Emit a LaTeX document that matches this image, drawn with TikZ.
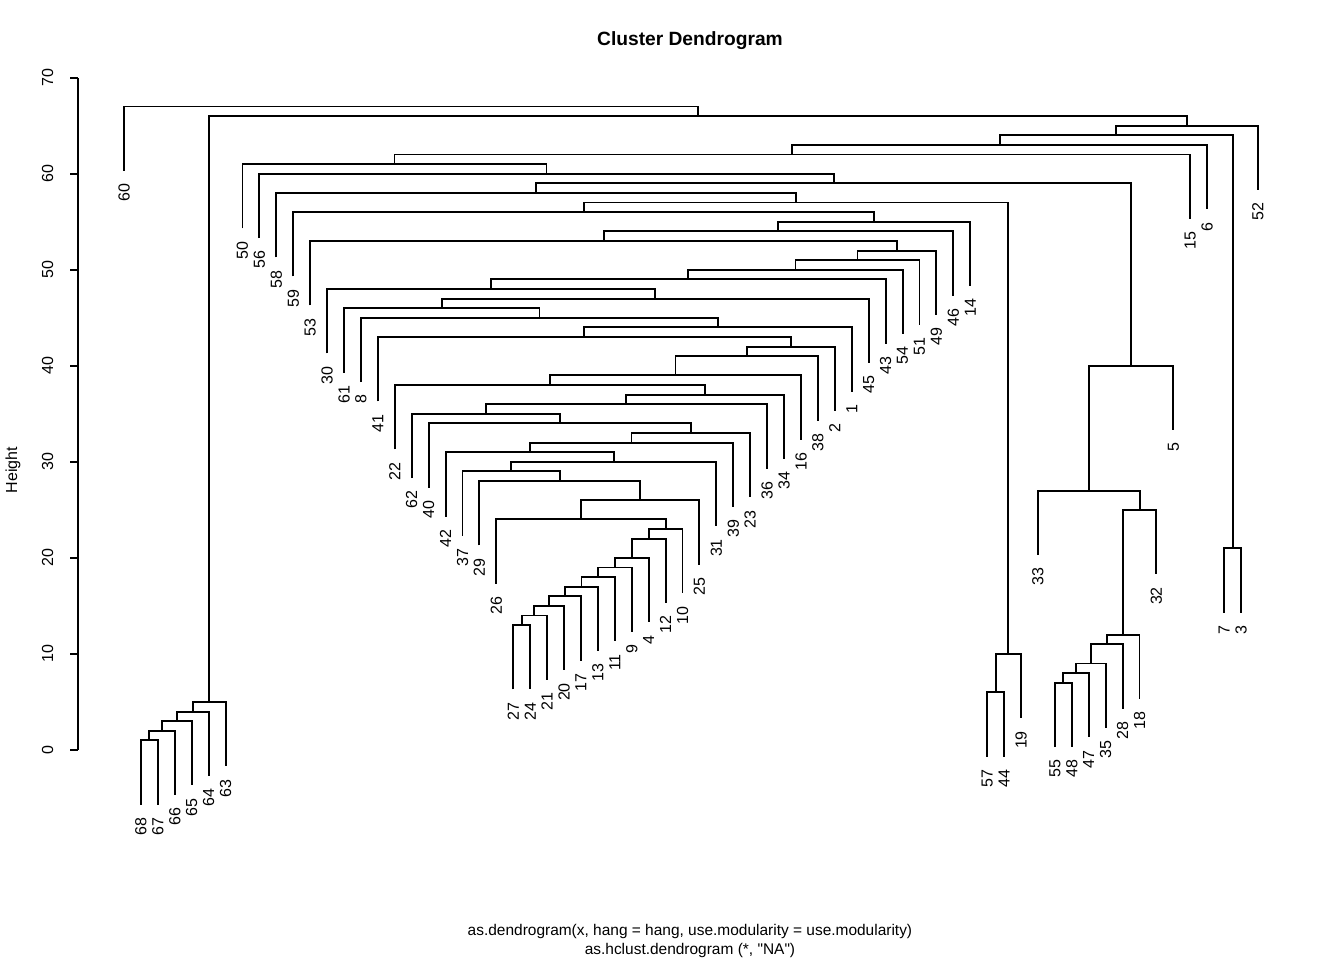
\documentclass[tikz,border=0pt]{standalone}
\usepackage{fontspec}
\setmainfont{Liberation Sans}
\usetikzlibrary{calc}

\begin{document}
\begin{tikzpicture}[x=12.694pt, y=7.203pt,
    branch/.style={line width=1.45pt},
    leaflab/.style={yshift=-9.5pt, rotate=90, anchor=east, inner sep=0pt, font=\fontsize{12}{14}\selectfont},
    ticklab/.style={rotate=90, inner sep=0pt, font=\fontsize{12}{14}\selectfont}]
    \useasboundingbox (-6.3264,-21.866) rectangle (73.083,78.09);
    % leaves, left to right, with the height where each one joins
    \foreach \lab/\h [count=\i] in {60/67, 68/1, 67/1, 66/2, 65/3, 64/4, 63/5, 50/61, 56/60, 58/58,
        59/56, 53/53, 30/48, 61/46, 8/45, 41/43, 22/38, 62/35, 40/34, 42/31, 37/29, 29/28, 26/24,
        27/13, 24/13, 21/14, 20/15, 17/16, 13/17, 11/18, 9/19, 4/20, 12/22, 10/23, 25/26, 31/30,
        39/32, 23/33, 36/36, 34/37, 16/39, 38/41, 2/42, 1/44, 45/47, 43/49, 54/50, 51/51, 49/52,
        46/54, 14/55, 57/6, 44/6, 19/10, 33/27, 55/7, 48/7, 47/8, 35/9, 28/11, 18/12, 32/25, 5/40,
        15/62, 6/63, 7/21, 3/21, 52/65} {
        \coordinate (l\lab) at (\i,\h-6.7);
        \node[leaflab] (t\lab) at (l\lab) {\lab};
    }
    % merges, lowest first
    \foreach \m/\a/\b/\h in {h1/l68/l67/1, h2/h1/l66/2, h3/h2/l65/3, h4/h3/l64/4, h5/h4/l63/5,
        h6/l57/l44/6, h7/l55/l48/7, h8/h7/l47/8, h9/h8/l35/9, h10/h6/l19/10, h11/h9/l28/11,
        h12/h11/l18/12, h13/l27/l24/13, h14/h13/l21/14, h15/h14/l20/15, h16/h15/l17/16,
        h17/h16/l13/17, h18/h17/l11/18, h19/h18/l9/19, h20/h19/l4/20, h21/l7/l3/21,
        h22/h20/l12/22, h23/h22/l10/23, h24/l26/h23/24, h25/h12/l32/25, h26/h24/l25/26,
        h27/l33/h25/27, h28/l29/h26/28, h29/l37/h28/29, h30/h29/l31/30, h31/l42/h30/31,
        h32/h31/l39/32, h33/h32/l23/33, h34/l40/h33/34, h35/l62/h34/35, h36/h35/l36/36,
        h37/h36/l34/37, h38/l22/h37/38, h39/h38/l16/39, h40/h27/l5/40, h41/h39/l38/41,
        h42/h41/l2/42, h43/l41/h42/43, h44/h43/l1/44, h45/l8/h44/45, h46/l61/h45/46,
        h47/h46/l45/47, h48/l30/h47/48, h49/h48/l43/49, h50/h49/l54/50, h51/h50/l51/51,
        h52/h51/l49/52, h53/l53/h52/53, h54/h53/l46/54, h55/h54/l14/55, h56/l59/h55/56,
        h57/h56/h10/57, h58/l58/h57/58, h59/h58/h40/59, h60/l56/h59/60, h61/l50/h60/61,
        h62/h61/l15/62, h63/h62/l6/63, h64/h63/h21/64, h65/h64/l52/65, h66/h5/h65/66,
        h67/l60/h66/67} {
        \path ($(\a)!0.5!(\b)$) coordinate (mid);
        \coordinate (\m) at (mid |- 0,\h);
        \draw[branch] (\a) |- (\m) -| (\b);
    }
    % axis
    \coordinate (a0) at (-1.7356,0);
    \coordinate (a70) at (-1.7356,70);
    \draw[branch] (a0) -- (a70);
    \foreach \t in {0,10,...,70} {
        \coordinate (k\t) at (-1.7356,\t);
        \coordinate (e\t) at (-2.208,\t);
        \draw[branch] (k\t) -- (e\t);
        \node[ticklab] (y\t) at (-3.508,\t) {\t};
    }
    \node[ticklab] (ylab) at (-5.56,29.15) {Height};
    \node[anchor=base, font=\bfseries\fontsize{14.4}{17}\selectfont] (title) at (34.44,73.3) {Cluster Dendrogram};
    \node[anchor=base, font=\fontsize{11.6}{14}\selectfont] (sub1) at (34.44,-19.37) {as.dendrogram(x, hang = hang, use.modularity = use.modularity)};
    \node[anchor=base, font=\fontsize{11.6}{14}\selectfont] (sub2) at (34.44,-21.35) {as.hclust.dendrogram (*, \textquotedbl NA\textquotedbl)};
\end{tikzpicture}
\end{document}
